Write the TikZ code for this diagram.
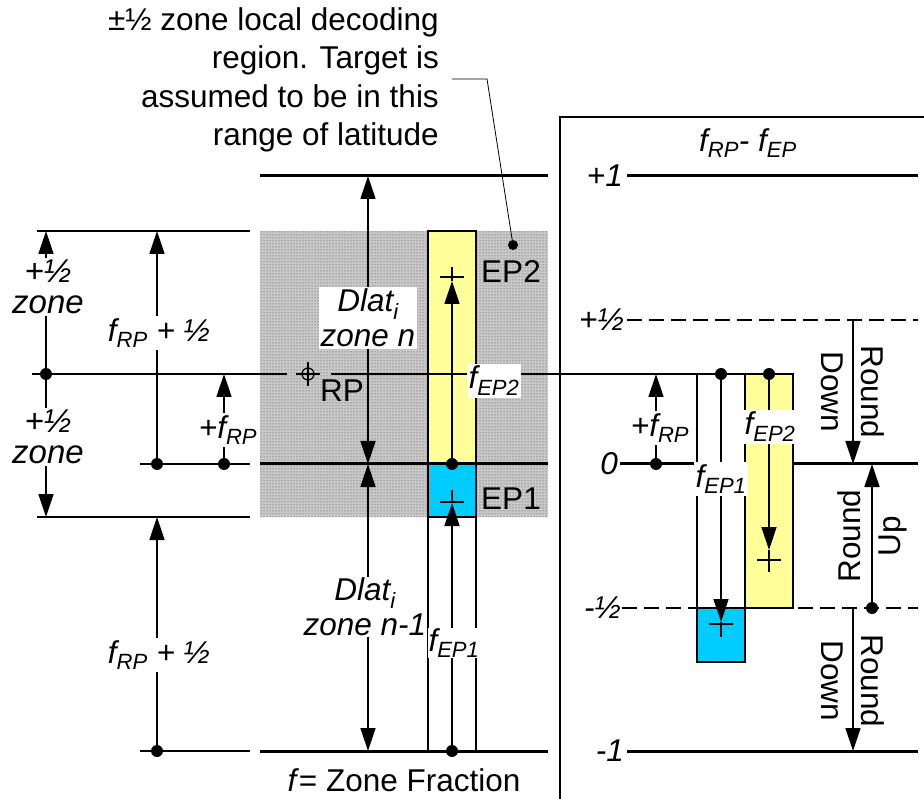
\documentclass[tikz,border=0pt]{standalone}
\usepackage{fontspec}
\setmainfont{Liberation Sans}
\usetikzlibrary{arrows.meta,patterns}
\definecolor{yel}{RGB}{255,255,153}
\definecolor{cyn}{RGB}{0,204,255}
\newcommand\lblf{\fontsize{31.5}{35}\selectfont}
\newcommand\sbs[1]{\textsubscript{#1}}
\begin{document}
\begin{tikzpicture}[x=1pt,y=-1pt,
  lbl/.style={font=\lblf, inner sep=1pt},
  ilbl/.style={font=\lblf\itshape, inner sep=1pt},
  wlbl/.style={font=\lblf\itshape, fill=white, inner sep=2pt},
  dotn/.style={circle, fill=black, inner sep=0pt, minimum size=12pt},
  arr/.style={-{Triangle[length=23pt,width=15pt]}, line width=1.5pt},
  zline/.style={line width=3pt},
  tline/.style={line width=1.5pt},
  dline/.style={line width=1.5pt, dash pattern=on 15pt off 7pt},
  rotl/.style={font=\fontsize{31.5}{40}\selectfont, align=center, inner sep=0pt},
]
\useasboundingbox (0,0) rectangle (924,799);

% shaded local decoding region
\fill[gray!42] (260,231) rectangle (548,517);
\fill[pattern=dots, pattern color=gray!50!black] (260,231) rectangle (548,517);

% left bars
\draw[tline, fill=yel] (428,231) rectangle (476,464);
\draw[tline, fill=cyn] (428,464) rectangle (476,517);
\draw[tline] (428,517) -- (428,751);
\draw[tline] (476,517) -- (476,751);

% left level lines
\draw[zline] (260,176) -- (548,176);
\draw[zline] (260,464) -- (548,464);
\draw[zline] (260,751) -- (548,751);
\draw[tline] (37,231) -- (250,231);
\draw[tline] (37,517) -- (250,517);
\draw[tline] (140,464) -- (250,464);
\draw[tline] (140,751) -- (250,751);

% RP line
\draw[tline] (32,374) -- (287,374);
\draw[tline] (331,374) -- (793,374);
\node[circle, draw, line width=1.2pt, minimum size=12pt, inner sep=0pt] (rp) at (308,374) {};
\draw[line width=1.2pt] (296,374) -- (320,374);
\draw[line width=1.2pt] (308,362) -- (308,386);
\node[lbl] (rpl) at (342,391) {RP};

% right panel frame
\draw[tline] (924,117) -- (560,117) -- (560,799);

% right level lines
\draw[zline] (627,176) -- (918,176);
\draw[dline] (627,320) -- (918,320);
\draw[zline] (620,464) -- (918,464);
\draw[dline] (622,608) -- (918,608);
\draw[zline] (627,751) -- (918,751);

% right bars
\draw[tline, fill=white] (697,374) rectangle (745,608);
\draw[tline, fill=cyn] (697,608) rectangle (745,662);
\draw[tline, fill=yel] (745,374) rectangle (793,608);

% dots
\node[dotn] (dA) at (46,374) {};
\node[dotn] (dB) at (157,464) {};
\node[dotn] (dC) at (224,464) {};
\node[dotn] (dD) at (157,751) {};
\node[dotn] (dE) at (452,464) {};
\node[dotn] (dF) at (452,751) {};
\node[dotn] (dG) at (656,464) {};
\node[dotn] (dH) at (721,374) {};
\node[dotn] (dI) at (769,374) {};
\node[dotn] (dJ) at (872,608) {};

% arrow tip coordinates
\coordinate (tA1) at (46,231);
\coordinate (tA2) at (46,517);
\coordinate (tB) at (157,231);
\coordinate (tC) at (224,374);
\coordinate (tD) at (157,517);
\coordinate (tE) at (452,281);
\coordinate (tF) at (452,503);
\coordinate (tG) at (656,374);
\coordinate (tH) at (721,622);
\coordinate (tI) at (769,550);
\coordinate (tJ) at (872,464);
\coordinate (dl1) at (368,318);
\coordinate (dl1t) at (368,176);
\coordinate (dl1b) at (368,464);
\coordinate (dl2) at (368,607);
\coordinate (dl2t) at (368,464);
\coordinate (dl2b) at (368,751);
\coordinate (rd1s) at (853,320);
\coordinate (rd1e) at (853,464);
\coordinate (rd2s) at (853,608);
\coordinate (rd2e) at (853,751);

% arrows
\draw[arr] (dA.center) -- (tA1);
\draw[arr] (dA.center) -- (tA2);
\draw[arr] (dB.center) -- (tB);
\draw[arr] (dC.center) -- (tC);
\draw[arr] (dD.center) -- (tD);
\draw[arr] (dE.center) -- (tE);
\draw[arr] (dF.center) -- (tF);
\draw[arr] (dG.center) -- (tG);
\draw[arr] (dH.center) -- (tH);
\draw[arr] (dI.center) -- (tI);
\draw[arr] (dJ.center) -- (tJ);
\draw[arr] (dl1) -- (dl1t);
\draw[arr] (dl1) -- (dl1b);
\draw[arr] (dl2) -- (dl2t);
\draw[arr] (dl2) -- (dl2b);
\draw[arr] (rd1s) -- (rd1e);
\draw[arr] (rd2s) -- (rd2e);

% crosses
\draw[tline] (440,277) -- (464,277);
\draw[tline] (452,267) -- (452,281);
\draw[tline] (440,502) -- (464,502);
\draw[tline] (452,490) -- (452,503);
\draw[tline] (709,624) -- (733,624);
\draw[tline] (721,622) -- (721,637);
\draw[tline] (757,560) -- (781,560);
\draw[tline] (769,550) -- (769,572);

% left labels
\node[wlbl, align=center, font=\fontsize{33}{31}\selectfont\itshape] (hz1) at (48,287) {+½\\zone};
\node[wlbl, align=center, font=\fontsize{33}{31}\selectfont\itshape] (hz2) at (48,437) {+½\\zone};
\node[wlbl] (frp1) at (159,333) {f\sbs{RP} + ½};
\node[wlbl] (frp2) at (159,655) {f\sbs{RP} + ½};
\node[wlbl] (pfrp) at (228,430) {+f\sbs{RP}};
\node[wlbl, align=center] (dlat1) at (dl1) {Dlat\sbs{i}\\zone n};
\node[wlbl, align=center, inner sep=1pt] (dlat2) at (365,607) {Dlat\sbs{i}\\zone n-1};
\node[wlbl] (fep2) at (494,381) {f\sbs{EP2}};
\node[wlbl, inner sep=0.5pt] (fep1) at (454,643) {f\sbs{EP1}};
\node[lbl] (ep2) at (511,272) {EP2};
\node[lbl] (ep1) at (511,499) {EP1};
\node[lbl] (zf) at (404,780) {\textit{f}= Zone Fraction};

% annotation
\node[lbl, align=right, anchor=east, font=\fontsize{31.5}{38.5}\selectfont] (ann) at (440,80)
  {±½ zone local decoding\\region. Target is\\assumed to be in this\\range of latitude};
\node[dotn, minimum size=10pt] (andot) at (513,245) {};
\coordinate (lead0) at (452,79);
\coordinate (lead1) at (487,79);
\draw[line width=0.8pt] (lead0) -- (lead1) -- (andot.center);

% right labels
\node[ilbl] (ttl) at (748,143) {f\sbs{RP}- f\sbs{EP}};
\node[ilbl, anchor=east] (lp1) at (624,176) {+1};
\node[ilbl, anchor=east] (lph) at (625,320) {+½};
\node[ilbl, anchor=east] (l0) at (619,464) {0};
\node[ilbl, anchor=east] (lmh) at (622,608) {-½};
\node[ilbl, anchor=east] (lm1) at (625,751) {-1};
\node[wlbl] (pfrp2) at (660,428) {+f\sbs{RP}};
\node[wlbl] (rfep1) at (721,479) {f\sbs{EP1}};
\node[wlbl] (rfep2) at (770,427) {f\sbs{EP2}};
\node[rotl, rotate=-90] (rdn1) at (853,392) {Round\\Down};
\node[rotl, rotate=90] (rup) at (872,536) {Round\\Up};
\node[rotl, rotate=-90] (rdn2) at (853,681) {Round\\Down};
\end{tikzpicture}
\end{document}
